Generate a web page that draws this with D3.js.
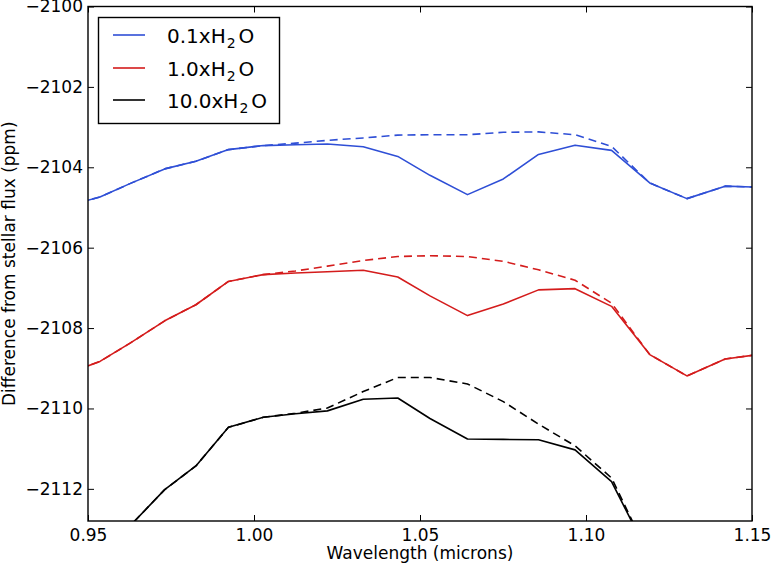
<!DOCTYPE html>
<html>
<head>
<meta charset="utf-8">
<script src="https://cdn.jsdelivr.net/npm/d3@7"></script>
<style>
  html, body { margin: 0; padding: 0; background: #fff; }
  svg { display: block; }
  text { font-family: "DejaVu Sans", sans-serif; fill: #000; }
</style>
</head>
<body>
<svg id="chart" width="773" height="565"></svg>
<script>
// ---------------- data ----------------
const wavelengths = [0.9437, 0.9536, 0.9628, 0.9731, 0.9825, 0.9923, 1.0028, 1.0125, 1.0221, 1.0329, 1.0433,
                     1.0530, 1.0643, 1.0751, 1.0857, 1.0967, 1.1077, 1.1192, 1.1304, 1.1419, 1.1535];

const blueSolid  = [-2104.96, -2104.74, -2104.40, -2104.04, -2103.85, -2103.56, -2103.46, -2103.44, -2103.42, -2103.49, -2103.73,
                    -2104.20, -2104.68, -2104.29, -2103.68, -2103.45, -2103.58, -2104.39, -2104.78, -2104.47, -2104.50];
const blueDashed = [-2104.96, -2104.74, -2104.40, -2104.04, -2103.85, -2103.56, -2103.46, -2103.40, -2103.33, -2103.27, -2103.20,
                    -2103.19, -2103.19, -2103.13, -2103.12, -2103.19, -2103.48, -2104.39, -2104.78, -2104.47, -2104.50];

const redSolid   = [-2109.13, -2108.83, -2108.37, -2107.82, -2107.42, -2106.84, -2106.67, -2106.63, -2106.60, -2106.56, -2106.73,
                    -2107.20, -2107.69, -2107.40, -2107.05, -2107.02, -2107.46, -2108.66, -2109.19, -2108.77, -2108.64];
const redDashed  = [-2109.13, -2108.83, -2108.37, -2107.82, -2107.42, -2106.84, -2106.67, -2106.58, -2106.46, -2106.32, -2106.22,
                    -2106.20, -2106.22, -2106.34, -2106.55, -2106.81, -2107.38, -2108.66, -2109.19, -2108.77, -2108.64];

const blackSolid  = [null, -2113.80, -2112.91, -2112.02, -2111.43, -2110.47, -2110.22, -2110.13, -2110.06, -2109.77, -2109.74,
                     -2110.25, -2110.76, -2110.77, -2110.78, -2111.03, -2111.82, -2113.70, null, null, null];
const blackDashed = [null, -2113.80, -2112.91, -2112.02, -2111.43, -2110.47, -2110.22, -2110.12, -2109.99, -2109.58, -2109.23,
                     -2109.23, -2109.39, -2109.83, -2110.39, -2110.93, -2111.73, -2113.70, null, null, null];

const seriesNames  = ["0.1xH", "1.0xH", "10.0xH"];
const seriesColors = ["#2f4fd6", "#d41c1c", "#000000"];
const solidSeries  = [blueSolid, redSolid, blackSolid];
const dashedSeries = [blueDashed, redDashed, blackDashed];

const xTicks = [0.95, 1.00, 1.05, 1.10, 1.15];
const yTicks = [-2112, -2110, -2108, -2106, -2104, -2102, -2100];

const xLabel = "Wavelength (microns)";
const yLabel = "Difference from stellar flux (ppm)";

// ---------------- layout ----------------
const L = 88, R = 752, T = 6.5, B = 521;
const FS = 17;

const svg = d3.select("#chart");
const x = d3.scaleLinear().domain([0.95, 1.15]).range([L, R]);
const y = d3.scaleLinear().domain([-2112.8, -2100]).range([B, T]);

svg.append("defs").append("clipPath").attr("id", "plotclip")
  .append("rect").attr("x", L).attr("y", T).attr("width", R - L).attr("height", B - T);

const plot = svg.append("g").attr("clip-path", "url(#plotclip)");

function lineFor(vals) {
  return d3.line()
    .defined((d, i) => vals[i] !== null)
    .x((d, i) => x(wavelengths[i]))
    .y((d, i) => y(vals[i]))(vals);
}

for (let s = 0; s < 3; s++) {
  plot.append("path")
    .attr("d", lineFor(dashedSeries[s]))
    .attr("fill", "none")
    .attr("stroke", seriesColors[s])
    .attr("stroke-width", 1.6)
    .attr("stroke-dasharray", "8,5")
    .attr("stroke-linejoin", "round");
  plot.append("path")
    .attr("d", lineFor(solidSeries[s]))
    .attr("fill", "none")
    .attr("stroke", seriesColors[s])
    .attr("stroke-width", 1.6)
    .attr("stroke-linejoin", "round");
}

// axes
const fmtY = d => (d < 0 ? "\u2212" : "") + Math.abs(d);
const gx = svg.append("g").attr("transform", `translate(0,${B})`)
  .call(d3.axisBottom(x).tickValues(xTicks).tickFormat(d3.format(".2f")).tickSizeInner(-6).tickSizeOuter(0).tickPadding(8));
const gy = svg.append("g").attr("transform", `translate(${L},0)`)
  .call(d3.axisLeft(y).tickValues(yTicks).tickFormat(fmtY).tickSizeInner(-6).tickSizeOuter(0).tickPadding(5));
const gt = svg.append("g").attr("transform", `translate(0,${T})`)
  .call(d3.axisTop(x).tickValues(xTicks).tickFormat("").tickSizeInner(-6).tickSizeOuter(0));
const gr = svg.append("g").attr("transform", `translate(${R},0)`)
  .call(d3.axisRight(y).tickValues(yTicks).tickFormat("").tickSizeInner(-6).tickSizeOuter(0));

[gx, gy, gt, gr].forEach(g => {
  g.select(".domain").remove();
  g.selectAll(".tick line").attr("stroke", "#000").attr("stroke-width", 1);
  g.selectAll("text").attr("font-size", FS).attr("font-family", "DejaVu Sans").attr("fill", "#000");
});

svg.append("rect").attr("x", L).attr("y", T).attr("width", R - L).attr("height", B - T)
  .attr("fill", "none").attr("stroke", "#000").attr("stroke-width", 1.4);

// axis labels
svg.append("text").attr("x", (L + R) / 2).attr("y", 559).attr("text-anchor", "middle")
  .attr("font-size", FS).text(xLabel);
svg.append("text").attr("transform", `translate(15,${(T + B) / 2}) rotate(-90)`)
  .attr("text-anchor", "middle").attr("font-size", FS).text(yLabel);

// legend
const lg = svg.append("g");
lg.append("rect").attr("x", 98.5).attr("y", 17.5).attr("width", 181).attr("height", 106)
  .attr("fill", "#fff").attr("stroke", "#000").attr("stroke-width", 1.4);
const rowY = [35, 68, 100];
for (let s = 0; s < 3; s++) {
  lg.append("line").attr("x1", 113).attr("x2", 145).attr("y1", rowY[s]).attr("y2", rowY[s])
    .attr("stroke", seriesColors[s]).attr("stroke-width", 1.6);
  const t = lg.append("text").attr("x", 167).attr("y", rowY[s] + 8).attr("font-size", 20);
  t.append("tspan").text(seriesNames[s]);
  t.append("tspan").attr("font-size", 14).attr("dy", 5).attr("dx", 1).text("2");
  t.append("tspan").attr("dy", -5).attr("dx", 3).text("O");
}
</script>
</body>
</html>
